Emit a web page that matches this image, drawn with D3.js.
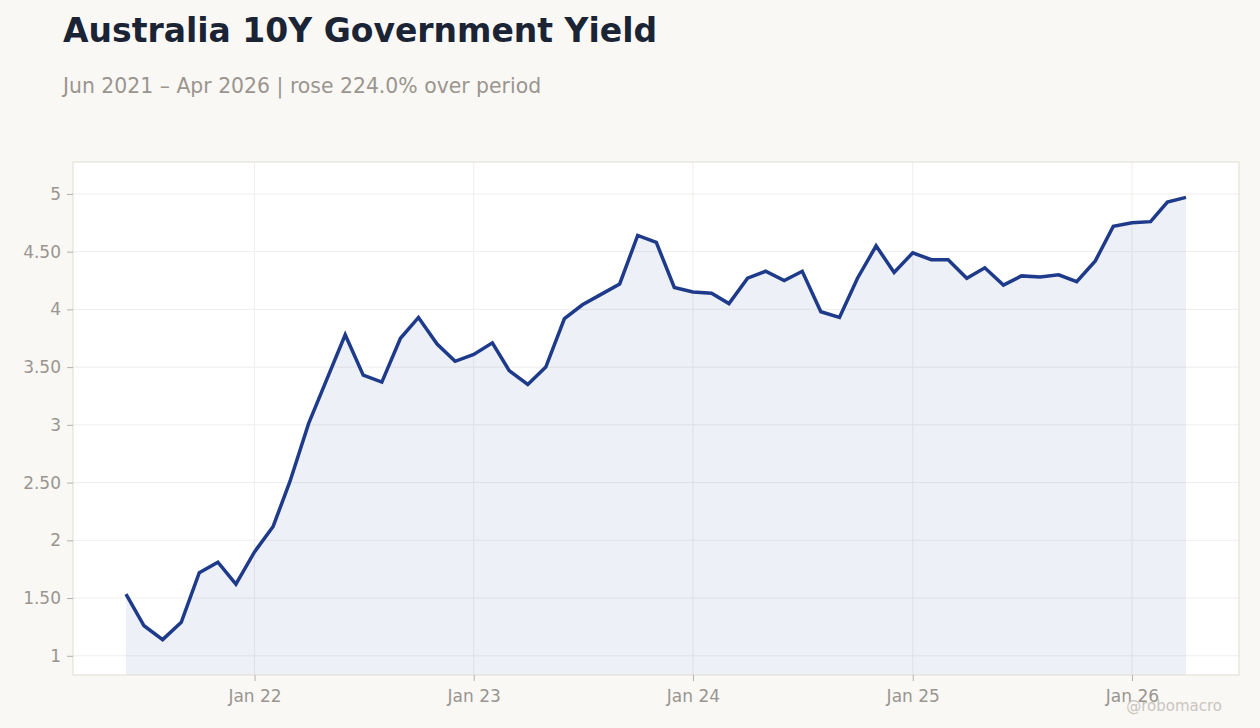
<!DOCTYPE html><meta charset="utf-8">
<style>
*{margin:0}
body{background:#f9f8f5;font-family:"DejaVu Sans",sans-serif}
.tick text{fill:#9a958f;font-size:17px;font-family:"DejaVu Sans",sans-serif}
.tick line{stroke:#b5b0a9}
.domain{display:none}
</style>
<svg width="1260" height="728"></svg>
<script src="https://d3js.org/d3.v7.min.js"></script>
<script>
// monthly close, Jun 2021 .. Apr 2026
const startMonth = "2021-06";
const yields = [
  1.534, 1.26, 1.14, 1.29, 1.72, 1.81, 1.62,
  1.90, 2.12, 2.51, 3.01, 3.39, 3.78, 3.43, 3.37, 3.75, 3.93, 3.70, 3.55,
  3.61, 3.71, 3.47, 3.35, 3.50, 3.92, 4.04, 4.13, 4.22, 4.64, 4.58, 4.19,
  4.15, 4.14, 4.05, 4.27, 4.33, 4.25, 4.33, 3.98, 3.93, 4.27, 4.55, 4.32,
  4.49, 4.43, 4.43, 4.27, 4.36, 4.21, 4.29, 4.28, 4.30, 4.24, 4.42, 4.72,
  4.75, 4.76, 4.93, 4.97
];
const yTicks = [1, 1.5, 2, 2.5, 3, 3.5, 4, 4.5, 5];
const xTickYears = [2022, 2023, 2024, 2025, 2026];

const svg = d3.select("svg"),
      m = {top:162, right:21, bottom:53, left:73},
      W = +svg.attr("width") - m.left - m.right,
      H = +svg.attr("height") - m.top - m.bottom;

const t0 = d3.timeParse("%Y-%m")(startMonth);
const data = yields.map((v,i)=>({date:d3.timeMonth.offset(t0,i), v}));

const [d0,d1] = d3.extent(data,d=>d.date), dpad = (d1-d0)*0.05;
const x = d3.scaleTime().domain([new Date(+d0-dpad), new Date(+d1+dpad)]).range([0,W]);
const [v0,v1] = d3.extent(yields), vpad = (v1-v0)*0.08;
const y = d3.scaleLinear().domain([v0-vpad, v1+vpad]).range([H,0]);

svg.append("text").attr("x",63).attr("y",42)
   .attr("font-size",33).attr("font-weight","bold").attr("fill","#1b2434")
   .text("Australia 10Y Government Yield");
svg.append("text").attr("x",63).attr("y",93)
   .attr("font-size",20.4).attr("fill","#9a958f")
   .text("Jun 2021 – Apr 2026 | rose 224.0% over period");

const g = svg.append("g").attr("transform",`translate(${m.left},${m.top})`);

g.append("rect").attr("width",W).attr("height",H).attr("fill","#fff");

const xTicks = xTickYears.map(yr=>new Date(yr,0,1));

// grid
g.append("g").selectAll("line").data(yTicks).join("line")
  .attr("x1",0).attr("x2",W).attr("y1",d=>y(d)).attr("y2",d=>y(d))
  .attr("stroke","#efeeec");
g.append("g").selectAll("line").data(xTicks).join("line")
  .attr("y1",0).attr("y2",H).attr("x1",d=>x(d)).attr("x2",d=>x(d))
  .attr("stroke","#efeeec");

g.append("path").datum(data)
  .attr("fill","#1e3a8a").attr("fill-opacity",0.08)
  .attr("d", d3.area().x(d=>x(d.date)).y0(H).y1(d=>y(d.v)));

g.append("path").datum(data)
  .attr("fill","none").attr("stroke","#1e3a8a").attr("stroke-width",3.5)
  .attr("stroke-linejoin","miter")
  .attr("d", d3.line().x(d=>x(d.date)).y(d=>y(d.v)));

g.append("rect").attr("width",W).attr("height",H)
  .attr("fill","none").attr("stroke","#e0dbd3");

g.append("g").attr("transform",`translate(0,${H})`)
  .call(d3.axisBottom(x).tickValues(xTicks).tickFormat(d3.timeFormat("%b %y")).tickSize(6).tickPadding(9));
g.append("g")
  .call(d3.axisLeft(y).tickValues(yTicks)
        .tickFormat(d=>Number.isInteger(d)? d : d.toFixed(2)).tickSize(6).tickPadding(6));

svg.append("text").attr("x",1222).attr("y",711).attr("text-anchor","end")
   .attr("font-size",15).attr("fill","#c9c5bf").text("@robomacro");
</script>
